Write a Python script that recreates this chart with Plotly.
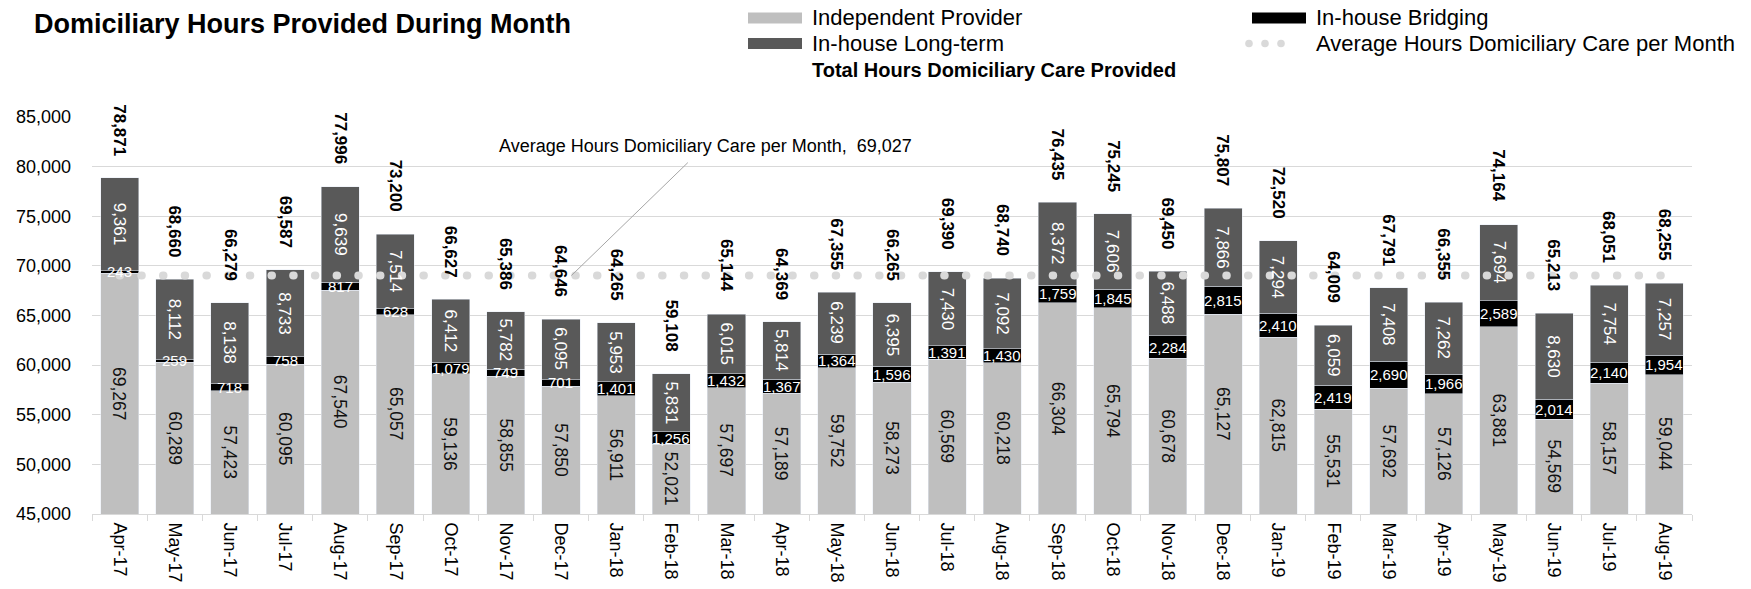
import plotly.graph_objects as go

# valeurs
months = ["Apr-17", "May-17", "Jun-17", "Jul-17", "Aug-17", "Sep-17", "Oct-17", "Nov-17", "Dec-17",
          "Jan-18", "Feb-18", "Mar-18", "Apr-18", "May-18", "Jun-18", "Jul-18", "Aug-18", "Sep-18",
          "Oct-18", "Nov-18", "Dec-18", "Jan-19", "Feb-19", "Mar-19", "Apr-19", "May-19", "Jun-19",
          "Jul-19", "Aug-19"]
independent = [69267, 60289, 57423, 60095, 67540, 65057, 59136, 58855, 57850, 56911, 52021, 57697,
               57189, 59752, 58273, 60569, 60218, 66304, 65794, 60678, 65127, 62815, 55531, 57692,
               57126, 63881, 54569, 58157, 59044]
bridging = [243, 259, 718, 758, 817, 628, 1079, 749, 701, 1401, 1256, 1432, 1367, 1364, 1596, 1391,
            1430, 1759, 1845, 2284, 2815, 2410, 2419, 2690, 1966, 2589, 2014, 2140, 1954]
longterm = [9361, 8112, 8138, 8733, 9639, 7514, 6412, 5782, 6095, 5953, 5831, 6015, 5814, 6239, 6395,
            7430, 7092, 8372, 7606, 6488, 7866, 7294, 6059, 7408, 7262, 7694, 8630, 7754, 7257]
totals = [78871, 68660, 66279, 69587, 77996, 73200, 66627, 65386, 64646, 64265, 59108, 65144, 64369,
          67355, 66265, 69390, 68740, 76435, 75245, 69450, 75807, 72520, 64009, 67791, 66355, 74164,
          65213, 68051, 68255]
average = 69027
avg_line = [average] * len(months)

y_min, y_max = 45000, 85000
FONT = "Liberation Sans, Arial, sans-serif"
c_indep, c_long, c_bridge, c_avg = "#bfbfbf", "#595959", "#000000", "#d9d9d9"

fig = go.Figure()
fig.add_bar(x=months, y=independent, name="Independent Provider", marker_color=c_indep)
fig.add_bar(x=months, y=bridging, name="In-house Bridging", marker_color=c_bridge)
fig.add_bar(x=months, y=longterm, name="In-house Long-term", marker_color=c_long)
fig.add_scatter(x=months, y=avg_line, mode="lines", name="Average Hours Domiciliary Care per Month",
                line=dict(color=c_avg, width=8, dash="0.5px,21.2px"))

ann = []
for m, ind, br, lt, tot in zip(months, independent, bridging, longterm, totals):
    # étiquettes des segments
    ann.append(dict(x=m, y=(y_min + ind) / 2, text=f"{ind:,}", textangle=90, showarrow=False,
                    font=dict(size=17.5, color="#111111")))
    ann.append(dict(x=m, y=ind + br / 2, text=f"{br:,}", showarrow=False,
                    font=dict(size=15, color="white")))
    ann.append(dict(x=m, y=ind + br + lt / 2, text=f"{lt:,}", textangle=90, showarrow=False,
                    font=dict(size=17, color="white")))
    # total au-dessus de la barre
    ann.append(dict(x=m, y=tot, text=f"<b>{tot:,}</b>", textangle=90, showarrow=False,
                    yanchor="bottom", yshift=20, font=dict(size=17, color="black")))

# étiquette de la moyenne avec ligne de rappel
ann.append(dict(x=8.19, y=average, text=f"Average Hours Domiciliary Care per Month, &nbsp;{average:,}",
                showarrow=True, arrowhead=0, arrowwidth=1, arrowcolor="#a6a6a6", ax=134, ay=-130,
                startstandoff=8, font=dict(size=18, color="black")))

# légende faite à la main (deux colonnes comme l'original)
def px_x(v):
    return (v - 92) / 1600

def px_y(v):
    return (514 - v) / 397

shapes = []
legend_items = [
    (748, 18, c_indep, "Independent Provider"),
    (748, 43.5, c_long, "In-house Long-term"),
    (1252, 18, c_bridge, "In-house Bridging"),
]
for x0, yc, col, label in legend_items:
    shapes.append(dict(type="rect", xref="paper", yref="paper", x0=px_x(x0), x1=px_x(x0 + 54),
                       y0=px_y(yc + 5.5), y1=px_y(yc - 5.5), fillcolor=col, line_width=0))
    ann.append(dict(xref="paper", yref="paper", x=px_x(x0 + 62), y=px_y(yc), text=label,
                    xanchor="left", yanchor="middle", showarrow=False, font=dict(size=22, color="black")))
for cx in (1249, 1265, 1281):
    shapes.append(dict(type="circle", xref="paper", yref="paper", x0=px_x(cx - 3.8), x1=px_x(cx + 3.8),
                       y0=px_y(43.5 + 3.8), y1=px_y(43.5 - 3.8), fillcolor=c_avg, line_width=0))
ann.append(dict(xref="paper", yref="paper", x=px_x(1314), y=px_y(43.5),
                text="Average Hours Domiciliary Care per Month", xanchor="left", yanchor="middle",
                showarrow=False, font=dict(size=22, color="black")))
ann.append(dict(xref="paper", yref="paper", x=px_x(810), y=px_y(70),
                text="<b>Total Hours Domiciliary Care Provided</b>", xanchor="left", yanchor="middle",
                showarrow=False, font=dict(size=20, color="black")))

fig.update_layout(
    width=1751, height=589,
    margin=dict(l=92, r=59, t=117, b=75),
    barmode="stack", bargap=0.31,
    plot_bgcolor="white", paper_bgcolor="white",
    font=dict(family=FONT, color="black"),
    showlegend=False,
    title=dict(text="<b>Domiciliary Hours Provided During Month</b>", xref="container", yref="container",
               x=34 / 1751, y=1 - 24 / 589, xanchor="left", yanchor="middle",
               font=dict(size=27, color="black")),
    annotations=ann, shapes=shapes,
)
fig.update_xaxes(type="category", tickangle=90, tickfont=dict(size=18), showline=True,
                 linecolor="#d9d9d9", ticks="outside", tickson="boundaries", ticklen=6,
                 tickcolor="#d9d9d9", showgrid=False, automargin=False, ticklabelstandoff=4)
fig.update_yaxes(range=[y_min, y_max], dtick=5000, tickformat=",", tickfont=dict(size=18),
                 gridcolor="#d9d9d9", showline=False, zeroline=False, ticks="", automargin=False,
                 ticklabelstandoff=20)

# marge du body à zéro et pointillés ronds pour la moyenne
post_js = """
document.body.style.margin = '0';
document.body.style.overflow = 'hidden';
var gd = document.getElementById('{plot_id}');
function rc() {
  gd.querySelectorAll('path.js-line').forEach(function (p) {
    if (p.style.strokeDasharray && p.style.strokeDasharray !== 'none') { p.style.strokeLinecap = 'round'; }
  });
}
rc();
gd.on('plotly_afterplot', rc);
"""
fig.write_html("out.html", post_script=post_js, config={"displayModeBar": False})
